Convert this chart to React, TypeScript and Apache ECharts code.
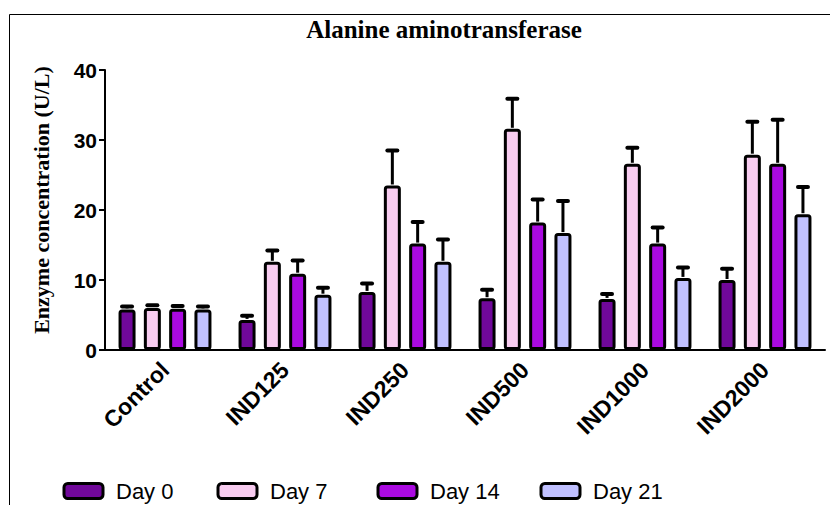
import React, { useEffect, useRef } from "react";
import * as echarts from "echarts";

const categories = ["Control", "IND125", "IND250", "IND500", "IND1000", "IND2000"];
const seriesNames = ["Day 0", "Day 7", "Day 14", "Day 21"];
const day0 = [5.8, 4.3, 8.3, 7.4, 7.3, 10.0];
const day0Err = [0.4, 0.6, 1.2, 1.2, 0.7, 1.6];
const day7 = [6.0, 12.6, 23.5, 31.6, 26.6, 27.9];
const day7Err = [0.4, 1.6, 5.0, 4.3, 2.3, 4.7];
const day14 = [5.9, 10.9, 15.2, 18.2, 15.2, 26.6];
const day14Err = [0.4, 1.9, 3.1, 3.3, 2.3, 6.3];
const day21 = [5.8, 7.9, 12.6, 16.7, 10.3, 19.4];
const day21Err = [0.4, 1.0, 3.2, 4.6, 1.5, 3.9];
const yTicks = { min: 0, max: 40, interval: 10 };

const colors = ["#70089A", "#F8CCF0", "#AA0AE1", "#C0C0FF"];
const means = [day0, day7, day14, day21];
const errs = [day0Err, day7Err, day14Err, day21Err];

const SANS = "'Liberation Sans', Arial, Helvetica, sans-serif";
const SERIF = "'Liberation Serif', 'Times New Roman', serif";
const BAR_W = 17;
const PITCH = 25.3;
const LEGEND_LEFT = [62.5, 216.5, 376.5, 539.5];
const LEGEND_TOP = [480, 480, 480, 480];

export default function App() {
  const ref = useRef<HTMLDivElement>(null);
  useEffect(() => {
    if (!ref.current) return;
    const chart = echarts.init(ref.current, null, { renderer: "svg" });
    const errData: number[][] = [];
    means.forEach((arr, s) => {
      arr.forEach((m, c) => errData.push([c, s, m, errs[s][c]]));
    });
    const barSeries = seriesNames.map((name, s) => ({
      name,
      type: "bar",
      data: means[s],
      barWidth: BAR_W,
      barGap: ((PITCH - BAR_W) / BAR_W) * 100 + "%",
      itemStyle: { color: colors[s], borderColor: "#000", borderWidth: 3, borderRadius: 2 },
      z: 2,
    }));
    const legends = seriesNames.map((name, i) => ({
      data: [name],
      top: LEGEND_TOP[i],
      left: LEGEND_LEFT[i],
      padding: 0,
      itemWidth: 39,
      itemHeight: 15,
      icon: "roundRect",
      itemStyle: { borderColor: "#000", borderWidth: 3 },
      textStyle: { fontSize: 22, fontFamily: SANS, color: "#000", padding: [0, 0, 0, 8] },
    }));
    chart.setOption({
      animation: false,
      backgroundColor: "#fff",
      grid: { left: 105, right: 5, top: 70, bottom: 155 },
      xAxis: {
        type: "category",
        data: categories,
        axisLine: { lineStyle: { color: "#000", width: 2 } },
        axisTick: { alignWithLabel: true, length: 7, lineStyle: { color: "#000", width: 2 } },
        axisLabel: {
          interval: 0,
          rotate: 45,
          margin: 16,
          fontSize: 23,
          fontWeight: "bold",
          fontFamily: SANS,
          color: "#000",
        },
        splitLine: { show: false },
      },
      yAxis: {
        type: "value",
        min: yTicks.min,
        max: yTicks.max,
        interval: yTicks.interval,
        axisLine: { show: true, lineStyle: { color: "#000", width: 2 } },
        axisTick: { show: true, length: 6, lineStyle: { color: "#000", width: 2 } },
        axisLabel: { margin: 8, fontSize: 21, fontWeight: "bold", fontFamily: SANS, color: "#000" },
        splitLine: { show: false },
      },
      legend: legends,
      graphic: [
        {
          type: "polyline",
          shape: { points: [[9.5, 505], [9.5, 14.5], [830, 14.5]] },
          style: { stroke: "#000", lineWidth: 1, fill: "none" },
          silent: true,
        },
        {
          type: "text",
          x: 444,
          y: 29,
          style: {
            text: "Alanine aminotransferase",
            fontSize: 25,
            fontWeight: "bold",
            fontFamily: SERIF,
            fill: "#000",
            textAlign: "center",
            textVerticalAlign: "middle",
          },
        },
        {
          type: "text",
          x: 41,
          y: 200,
          rotation: Math.PI / 2,
          style: {
            text: "Enzyme concentration (U/L)",
            fontSize: 22,
            fontWeight: "bold",
            fontFamily: SERIF,
            fill: "#000",
            textAlign: "center",
            textVerticalAlign: "middle",
          },
        },
      ],
      series: [
        ...barSeries,
        {
          type: "custom",
          name: "errors",
          data: errData,
          encode: { x: 0, y: 2 },
          z: 3,
          clip: false,
          renderItem: (params: any, api: any) => {
            const c = api.value(0);
            const s = api.value(1);
            const m = api.value(2);
            const e = api.value(3);
            const base = api.coord([c, m]);
            const top = api.coord([c, m + e]);
            const x = base[0] + (s - 1.5) * PITCH;
            return {
              type: "group",
              children: [
                {
                  type: "line",
                  shape: { x1: x, y1: base[1] - 1, x2: x, y2: top[1] },
                  style: { stroke: "#000", lineWidth: 3 },
                },
                {
                  type: "line",
                  shape: { x1: x - 5, y1: top[1], x2: x + 5, y2: top[1] },
                  style: { stroke: "#000", lineWidth: 4, lineCap: "round" },
                },
              ],
            };
          },
        },
      ],
    });
    return () => chart.dispose();
  }, []);
  return (
    <div
      ref={ref}
      style={{ position: "absolute", left: 0, top: 0, width: 830, height: 505, background: "#fff" }}
    />
  );
}
